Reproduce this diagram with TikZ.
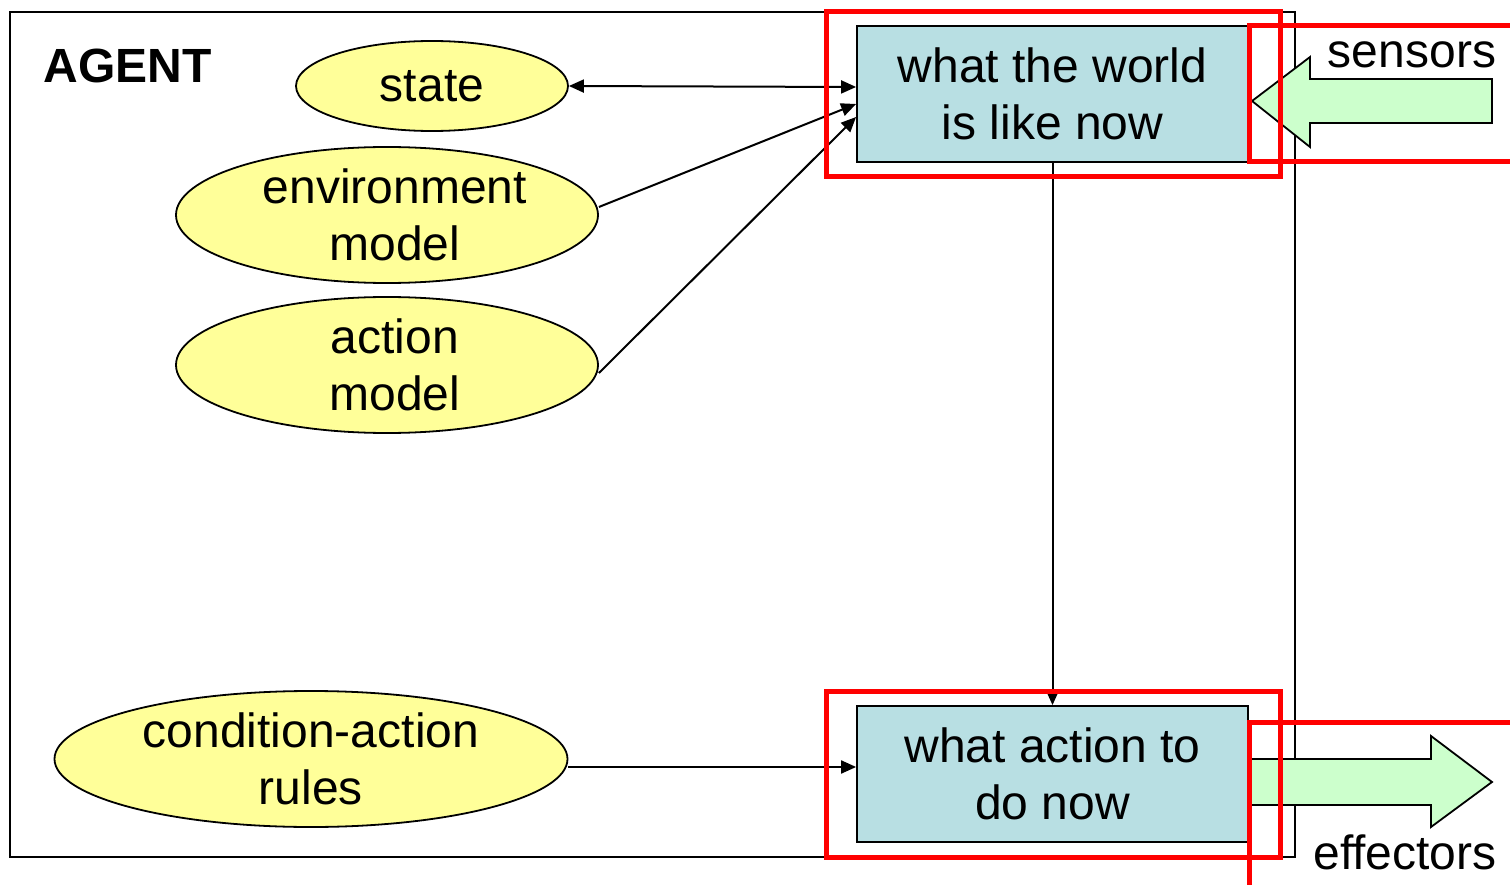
\documentclass[tikz,border=0pt]{standalone}
\usepackage{fontspec}
\setmainfont{Liberation Sans}
\usetikzlibrary{arrows.meta,shapes.geometric,positioning}

\definecolor{beliefyellow}{HTML}{FFFF99}
\definecolor{stageblue}{HTML}{B8DFE3}
\definecolor{flowgreen}{HTML}{CCFFCC}

\begin{document}
\begin{tikzpicture}[
    x=1pt, y=-1pt,
    font=\fontsize{48}{57}\selectfont,
    belief/.style={ellipse, draw, line width=1.8pt, fill=beliefyellow, align=center, inner sep=0pt},
    stage/.style={rectangle, draw, line width=1.8pt, fill=stageblue, align=center,
                  minimum width=391pt, minimum height=136pt, inner sep=0pt},
    link/.style={line width=2pt, -{Triangle[length=15pt,width=13pt]}},
    focus/.style={draw=red, line width=5pt},
    flow/.style={draw, line width=1.8pt, fill=flowgreen, line join=miter}
  ]
  \useasboundingbox (0,0) rectangle (1510,885);

  % --- Agent frame ---
  \draw[line width=1.8pt] (10,12) rectangle (1295,857);
  \node[anchor=west, font=\fontsize{48}{57}\selectfont\bfseries] (agent) at (40,66) {AGENT};

  % --- Internal knowledge ---
  \node[belief, minimum width=272pt, minimum height=90pt] (state) at (432,86) {state};
  \node[belief, minimum width=422pt, minimum height=136pt,
        execute at begin node=\hspace*{16pt}] (envm) at (387,215) {environment\\model};
  \node[belief, minimum width=422pt, minimum height=136pt,
        execute at begin node=\hspace*{16pt}] (actm) at (387,365) {action\\model};
  \node[belief, minimum width=513pt, minimum height=136pt] (rules) at (311,759) {condition-action\\rules};

  % --- Processing stages ---
  \node[stage] (world) at (1052.5,94) {what the world\\is like now};
  \node[stage] (decide) at (1052.5,774) {what action to\\do now};

  % --- Connectors ---
  \draw[link, {Triangle[length=15pt,width=13pt]}-{Triangle[length=15pt,width=13pt]}]
    (state.east) -- ([yshift=7pt]world.west);
  \draw[link] ([yshift=8pt]envm.east) -- ([yshift=-10pt]world.west);
  \draw[link] ([yshift=-8pt]actm.east) -- ([yshift=-23pt]world.west);
  \draw[link] (world.south) -- (decide.north);
  \draw[link] (rules.east |- 0,767) -- (decide.west |- 0,767);

  % --- Sensor and effector flows ---
  \draw[flow] (1492,79) -- (1310,79) -- (1310,57) -- (1252,101)
    -- (1310,147) -- (1310,123) -- (1492,123) -- cycle;
  \fill[flowgreen] (1251,759) rectangle (1300,805);
  \draw[flow] (1251,759) -- (1431,759) -- (1431,736) -- (1492,782)
    -- (1431,827) -- (1431,805) -- (1251,805);
  \node (sensors) at (1412,55) {sensors};
  \node (effectors) at (1405,852) {effectors};

  % --- Highlights ---
  \draw[focus] (826,12) rectangle (1280,177);
  \draw[focus] (826,691) rectangle (1280,857);
  \draw[focus] (1515,26) -- (1249,26) -- (1249,162) -- (1515,162);
  \draw[focus] (1515,722) -- (1249,722) -- (1249,890);
\end{tikzpicture}
\end{document}
